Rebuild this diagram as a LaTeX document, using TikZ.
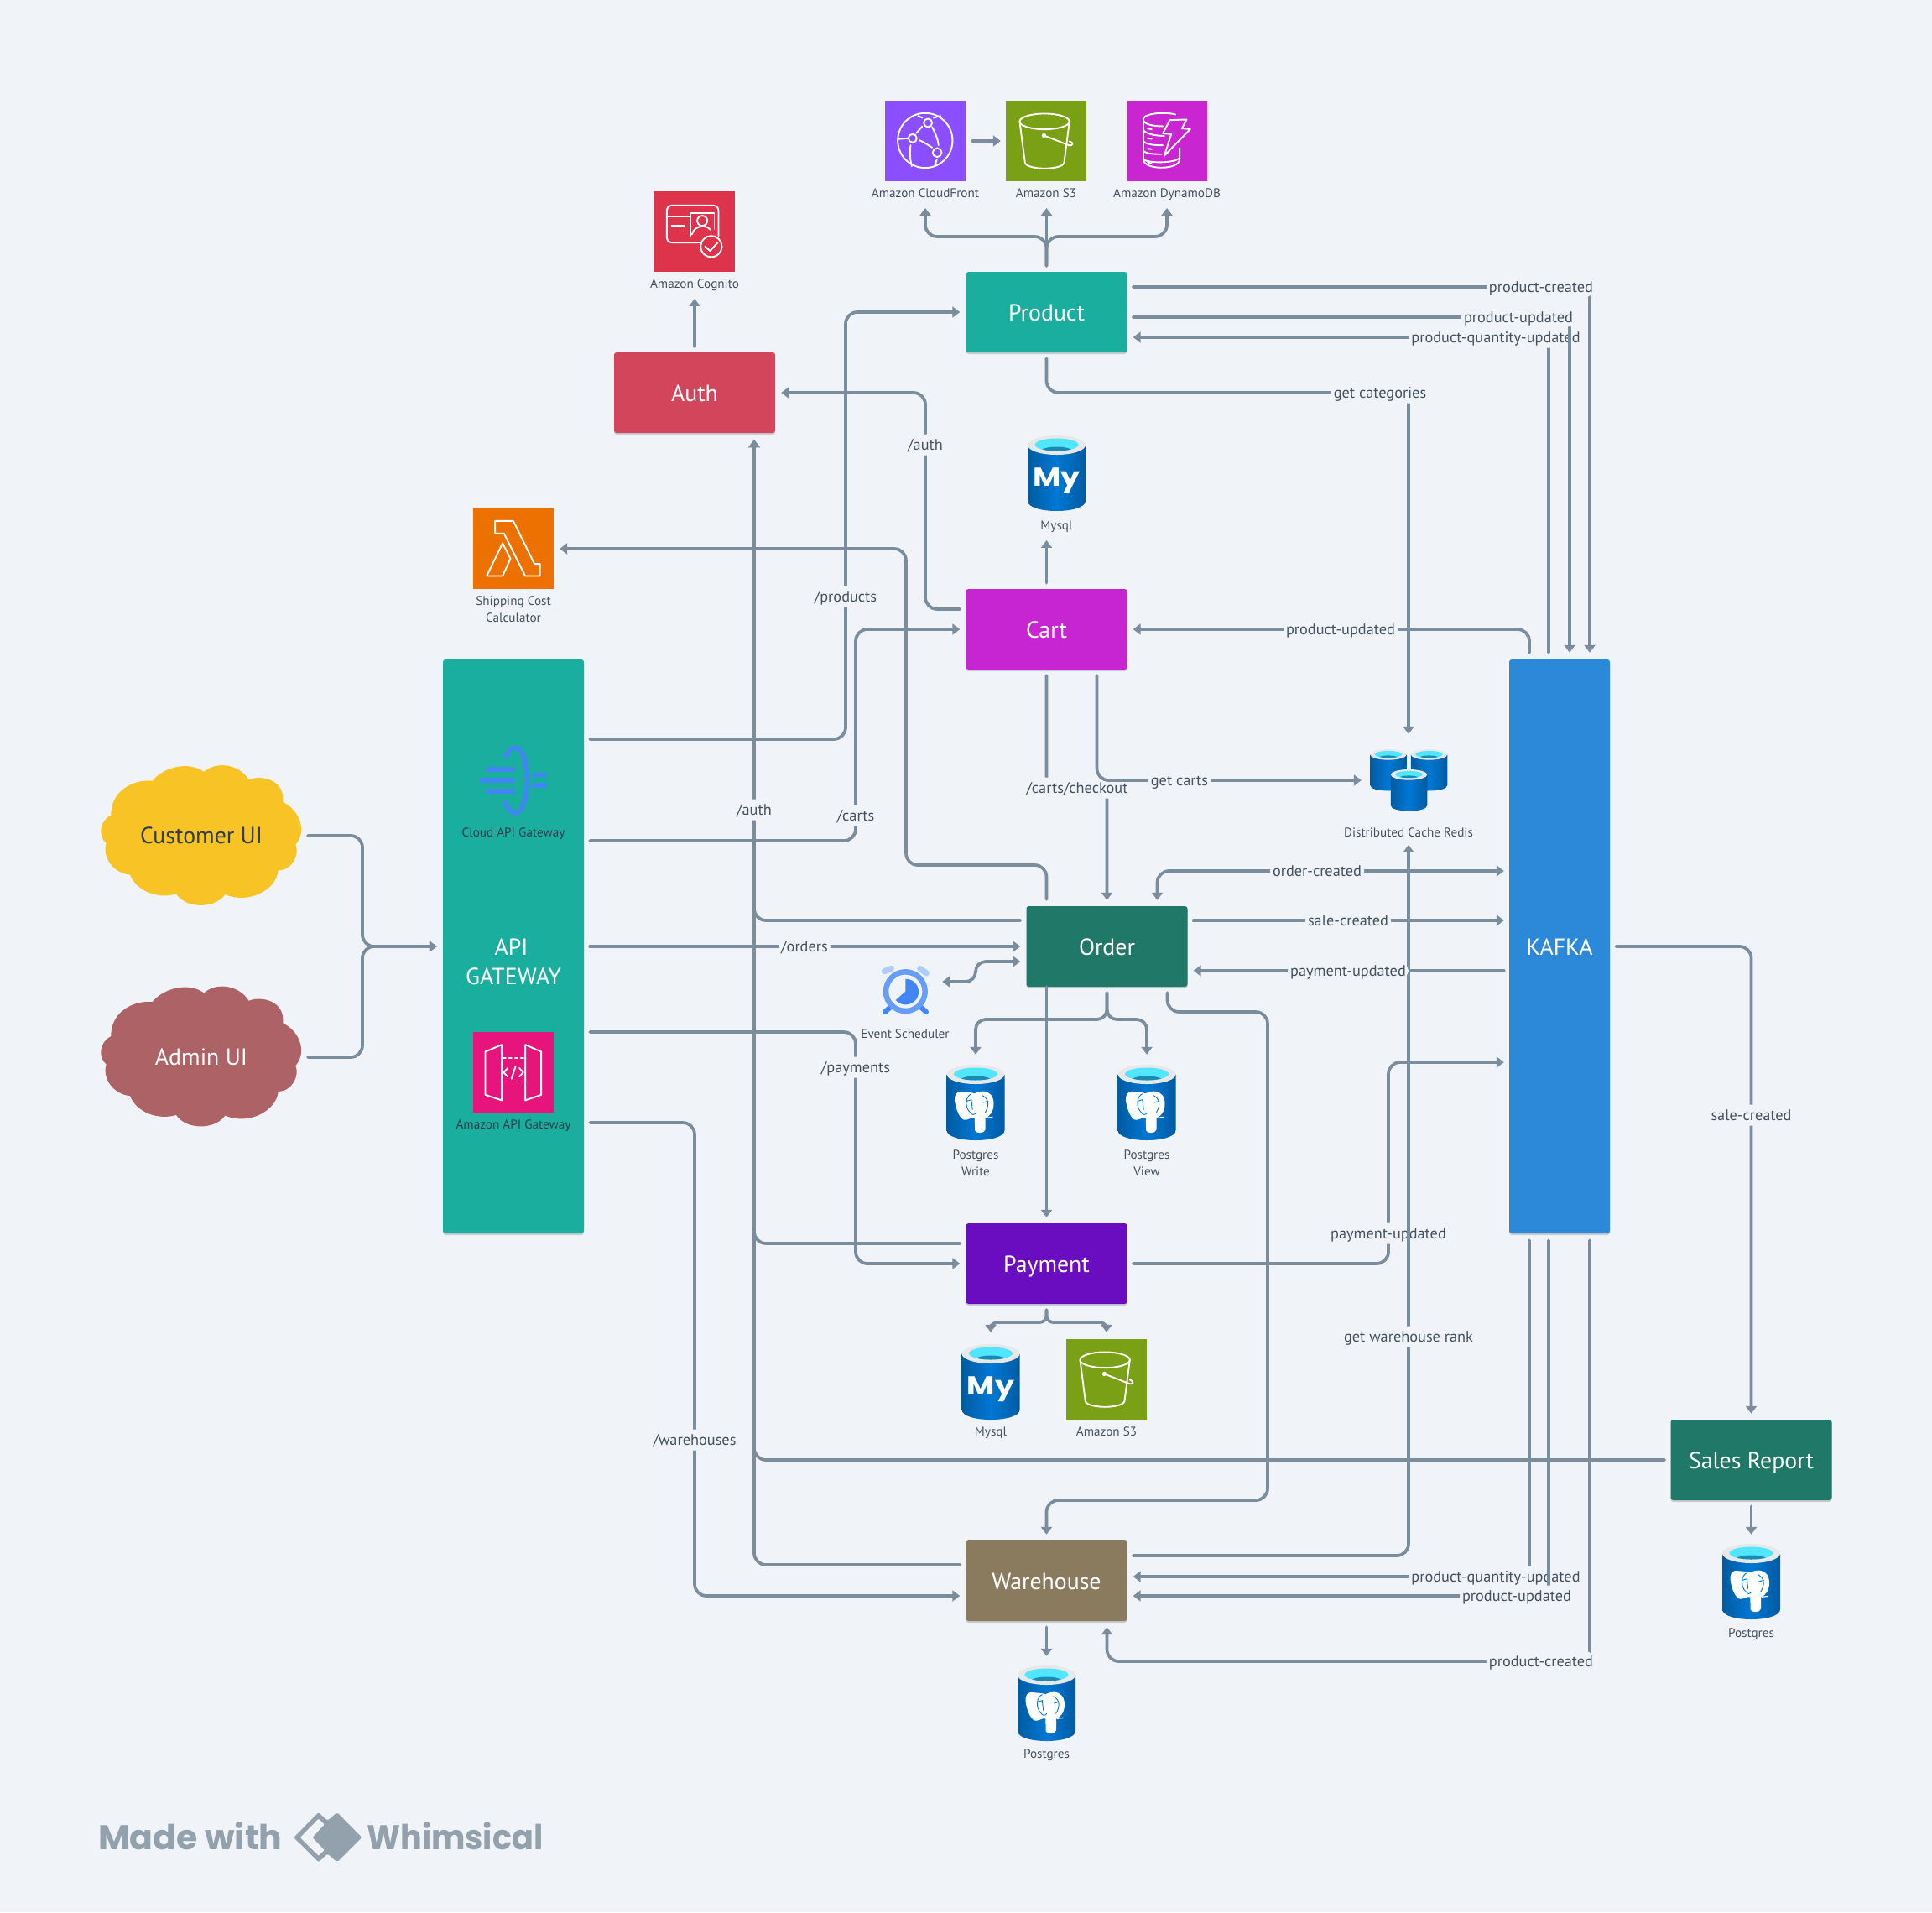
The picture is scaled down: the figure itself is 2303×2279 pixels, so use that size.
\documentclass[tikz,border=0pt]{standalone}
\usepackage{fontspec}
\setmainfont{PT Sans}
\newfontfamily\whimfont{Poppins}
\newfontfamily\myfont{Poppins}
\usetikzlibrary{arrows.meta,calc,shadows}
\definecolor{bgc}{HTML}{F0F4F8}
\definecolor{linec}{HTML}{7B8D9D}
\definecolor{labc}{HTML}{44525F}
\definecolor{darkc}{HTML}{2E3D49}
\definecolor{tealc}{HTML}{1AAE9F}
\definecolor{greenc}{HTML}{207868}
\definecolor{authc}{HTML}{D3455B}
\definecolor{cartc}{HTML}{C725D1}
\definecolor{payc}{HTML}{6A0DC0}
\definecolor{whc}{HTML}{8A7B5E}
\definecolor{kafc}{HTML}{2C88D9}
\definecolor{cfc}{HTML}{8C4FFF}
\definecolor{s3c}{HTML}{7AA116}
\definecolor{ddbc}{HTML}{C925D1}
\definecolor{cogc}{HTML}{DD344C}
\definecolor{lamc}{HTML}{ED7100}
\definecolor{apic}{HTML}{E7157B}
\definecolor{cylD}{HTML}{005BA1}
\definecolor{cylL}{HTML}{0078D4}
\definecolor{cylrim}{HTML}{E8E8E8}
\definecolor{cylcy}{HTML}{50E6FF}
\definecolor{cyldk}{HTML}{198AB3}
\definecolor{gcpc}{HTML}{4285F4}
\definecolor{gcpm}{HTML}{669DF6}
\definecolor{gcpl}{HTML}{AECBFA}
\definecolor{logoc}{HTML}{93A1AC}
\definecolor{yelc}{HTML}{F7C325}
\definecolor{rosec}{HTML}{AD6266}
\tikzset{
  conn/.style={draw=linec,line width=3.7pt,line cap=round,rounded corners=14pt,-{Triangle[width=13pt,length=9pt]}},
  conn2/.style={conn,{Triangle[width=13pt,length=9pt]}-{Triangle[width=13pt,length=9pt]}},
  lab/.style={fill=bgc,text=labc,font=\fontsize{18.3}{22}\selectfont,inner ysep=0pt,inner xsep=3pt,text height=18.5pt,text depth=6.5pt},
  boxn/.style={minimum width=192pt,minimum height=96pt,rounded corners=3pt,text=white,font=\fontsize{27.8}{35}\selectfont,inner sep=0pt,text height=24.5pt,text depth=4.3pt,drop shadow={shadow xshift=0pt,shadow yshift=-2pt,opacity=.16,fill=black}},
  iconbox/.style={minimum width=96pt,minimum height=96pt,inner sep=0pt},
  iconlab/.style={iconlabm,text height=13pt,text depth=2.5pt},
  iconlabm/.style={text=labc,font=\fontsize{15.2}{20}\selectfont,align=center,inner sep=0pt},
  spot/.style={inner sep=0pt,minimum width=#1},
  icn/.style={draw=white,line width=1.9pt,line join=round,line cap=round},
  zoomu/.style={x=.3333pt,y=-.3333pt},
}
\newcommand\cylbase[4]{%
  \begin{scope}[shift={(#1,#2)},xscale=#3,yscale=#4]
    \shade[left color=cylD,right color=cylD,middle color=cylL] (-34.5,11.5) -- (-34.5,78) .. controls (-34.5,94) and (34.5,94) .. (34.5,78) -- (34.5,11.5) -- cycle;
    \fill[cylrim] (0,11.5) ellipse [x radius=34.5,y radius=11.5];
    \begin{scope}
      \clip (0,11) ellipse [x radius=26,y radius=7.5];
      \fill[cylcy] (-30,0) rectangle (30,22);
      \fill[cyldk] (0,19) ellipse [x radius=19,y radius=5.5];
    \end{scope}
  \end{scope}}
\newcommand\pgicon[2]{%
  \cylbase{#1}{#2}{1}{1}
  \begin{scope}[shift={(#1,#2)},xshift=-34.5pt,zoomu]
    \fill[white] (60,97) .. controls (32,90) and (26,112) .. (29,130) .. controls (32,155) and (45,192) .. (62,197) .. controls (78,199) and (85,187) .. (100,190) -- (101,235) .. controls (106,247) and (134,247) .. (138,232) -- (138,190) .. controls (155,185) and (168,165) .. (168,140) .. controls (168,113) and (155,96) .. (130,95) .. controls (115,95) and (105,100) .. (100,103) .. controls (88,98) and (72,98) .. (60,97) -- cycle;
    \draw[cylL,line width=.9pt,line cap=round] (88,104) .. controls (68,112) and (62,150) .. (85,172) .. controls (90,180) and (100,180) .. (104,172);
    \draw[cylL,line width=.9pt,line cap=round] (72,130) -- (88,125) -- (92,160);
    \draw[cylL,line width=.9pt,line cap=round] (128,110) .. controls (155,125) and (150,150) .. (137,172);
    \draw[cylL,line width=.9pt,line cap=round] (130,135) -- (148,130);
    \draw[white,line width=1.2pt] (140,190) -- (165,187);
  \end{scope}}
\newcommand\myicon[2]{%
  \cylbase{#1}{#2}{1}{1}
  \node[anchor=base,text=white,font=\myfont\bfseries\fontsize{31}{31}\selectfont,inner sep=0pt] at ($(#1,#2)+(0,60)$) {\scalebox{1.17}[1]{My}};}
\newcommand\cloudshape[3]{%
  \fill[#3] [shift={(#1,#2)},zoomu]
   (245,122) .. controls (285,72) and (375,50) .. (430,90)
   .. controls (465,55) and (550,55) .. (590,118)
   .. controls (630,100) and (720,115) .. (712,198)
   .. controls (770,225) and (800,300) .. (757,350)
   .. controls (772,385) and (745,442) .. (695,442)
   .. controls (690,510) and (590,565) .. (505,528)
   .. controls (470,580) and (365,580) .. (330,526)
   .. controls (270,545) and (190,520) .. (165,458)
   .. controls (105,452) and (65,395) .. (80,345)
   .. controls (50,320) and (55,265) .. (97,245)
   .. controls (95,160) and (175,115) .. (245,122) -- cycle;}
\newcommand\sthreeicon[1]{%
  \begin{scope}[shift={(#1.north west)},zoomu]
    \draw[icn] (139,75) ellipse [x radius=89,y radius=28];
    \draw[icn] (50,75) -- (69,222) .. controls (75,250) and (203,250) .. (209,222) -- (228,75);
    \fill[white] (137,125) circle [radius=8];
    \draw[icn] (137,125) -- (226,160) .. controls (240,165) and (245,150) .. (228,146);
  \end{scope}}
\begin{document}
\begin{tikzpicture}[x=1pt,y=-1pt]
\useasboundingbox (0,0) rectangle (2303,2279);
\fill[bgc] (0,0) rectangle (2303,2279);

% clouds
\cloudshape{100}{890}{yelc}
\cloudshape{100}{1153.5}{rosec}
\node[text=darkc,font=\fontsize{27.8}{30}\selectfont,inner sep=0pt] (CU) at (240,996) {Customer UI};
\node[text=white,font=\fontsize{27.8}{30}\selectfont,inner sep=0pt] (AU) at (240,1260) {Admin UI};

% main boxes
\node[boxn,minimum width=168pt,minimum height=684pt,fill=tealc] (AG) at (612,1128) {};
\node[boxn,fill=tealc] (P) at (1247.5,372) {Product};
\node[boxn,fill=authc] (A) at (828,468) {Auth};
\node[boxn,fill=cartc] (C) at (1247.5,750) {Cart};
\node[boxn,fill=greenc] (O) at (1319.5,1128) {Order};
\node[boxn,fill=payc] (Pm) at (1247.5,1506) {Payment};
\node[boxn,fill=whc] (W) at (1247.5,1884) {Warehouse};
\node[boxn,fill=greenc] (SR) at (2087.5,1740) {Sales Report};
\node[boxn,minimum width=120pt,minimum height=684pt,fill=kafc] (K) at (1859,1128) {KAFKA};
\node[text=white,font=\fontsize{27.8}{35}\selectfont,align=center,inner sep=0pt] (AGt) at (612,1146) {API\hspace*{5pt}\\GATEWAY};

% icon boxes
\node[iconbox,fill=cfc] (CF) at (1103,168) {};
\node[iconbox,fill=s3c] (S3a) at (1247,168) {};
\node[iconbox,fill=ddbc] (DD) at (1391,168) {};
\node[iconbox,fill=cogc] (CG) at (828,276) {};
\node[iconbox,fill=lamc] (L) at (612,654) {};
\node[iconbox,fill=apic] (AP) at (612,1278) {};
\node[iconbox,fill=s3c] (S3b) at (1319,1644) {};
\node[iconlab] (CFl) at (1103,230) {Amazon CloudFront};
\node[iconlab] (S3al) at (1247,230) {Amazon S3};
\node[iconlab] (DDl) at (1391,230) {Amazon DynamoDB};
\node[iconlab] (CGl) at (828,338) {Amazon Cognito};
\node[iconlabm] (Ll) at (612,726) {Shipping Cost\\Calculator};
\node[iconlab,text=darkc] (GAl) at (612,992) {Cloud API Gateway};
\node[iconlab,text=darkc] (APl) at (612,1340) {Amazon API Gateway};
\node[iconlab] (ESl) at (1079,1232) {Event Scheduler};
\node[iconlab] (Rl) at (1679,992) {Distributed Cache Redis};
\node[iconlab] (MY1l) at (1259.5,626) {Mysql};
\node[iconlabm] (PGWl) at (1163,1386) {Postgres\\Write};
\node[iconlabm] (PGVl) at (1367,1386) {Postgres\\View};
\node[iconlab] (MY2l) at (1181,1706) {Mysql};
\node[iconlab] (S3bl) at (1319,1706) {Amazon S3};
\node[iconlab] (PG3l) at (2087.5,1946) {Postgres};
\node[iconlab] (PG4l) at (1247.5,2090) {Postgres};

% icon anchors
\node[spot=69pt,minimum height=90pt] (MY1) at (1259.5,564) {};
\node[spot=69pt,minimum height=90pt] (PGW) at (1163,1314) {};
\node[spot=69pt,minimum height=90pt] (PGV) at (1367,1314) {};
\node[spot=69pt,minimum height=90pt] (MY2) at (1181,1647) {};
\node[spot=69pt,minimum height=90pt] (PG3) at (2087.5,1885) {};
\node[spot=69pt,minimum height=90pt] (PG4) at (1247.5,2030) {};
\node[spot=92pt,minimum height=74pt] (R) at (1679,930) {};
\node[spot=56pt,minimum height=56pt] (ES) at (1079,1182) {};

% AWS icons
\begin{scope}[shift={(CF.north west)},zoomu]
  \draw[icn] (144,143) circle [radius=98];
  \draw[icn] (154,80) circle [radius=15];
  \draw[icn] (99,135) circle [radius=15];
  \draw[icn] (187,186) circle [radius=16];
  \draw[icn] (134,92) -- (112,117);
  \draw[icn] (124,142) .. controls (142,150) and (155,160) .. (169,168);
  \draw[icn] (169,95) .. controls (182,120) and (190,140) .. (192,160);
  \draw[icn] (92,160) .. controls (88,185) and (90,210) .. (96,235);
  \draw[icn] (46,138) -- (82,135);
  \draw[icn] (119,55) -- (134,62);
  \draw[icn] (174,62) -- (199,55);
  \draw[icn] (179,232) -- (186,210);
\end{scope}
\sthreeicon{S3a}
\sthreeicon{S3b}
\begin{scope}[shift={(DD.north west)},zoomu]
  \draw[icn] (125,45) .. controls (160,45) and (175,50) .. (175,50);
  \draw[icn] (130,92) .. controls (95,92) and (60,85) .. (60,68) .. controls (60,52) and (95,46) .. (125,45);
  \draw[icn] (60,68) -- (60,210);
  \draw[icn] (60,105) .. controls (70,120) and (100,125) .. (135,127);
  \draw[icn] (60,145) .. controls (70,158) and (100,160) .. (130,160);
  \draw[icn] (60,180) .. controls (70,190) and (95,192) .. (125,192);
  \draw[icn] (60,210) .. controls (60,250) and (190,250) .. (190,210) -- (190,170);
  \draw[icn] (60,210) .. controls (75,225) and (175,225) .. (190,205);
  \draw[icn] (76,100) -- (90,103);
  \draw[icn] (76,135) -- (90,137);
  \draw[icn] (76,172) -- (90,174);
  \draw[icn] (76,222) -- (90,226);
  \draw[icn,fill=ddbc] (155,70) -- (215,68) -- (198,100) -- (228,102) -- (135,198) -- (160,120) -- (130,118) -- cycle;
\end{scope}
\begin{scope}[shift={(CG.north west)},zoomu]
  \draw[icn,rounded corners=3pt] (200,184) -- (55,184) -- (45,174) -- (45,61) -- (55,51) -- (220,51) -- (230,61) -- (230,160);
  \draw[icn] (45,90) -- (130,90);
  \draw[icn] (130,160) -- (130,78) -- (215,78) -- (215,135);
  \draw[icn] (172,106) circle [radius=18];
  \draw[icn] (135,155) .. controls (140,135) and (155,128) .. (170,126) .. controls (185,126) and (195,130) .. (200,138);
  \draw[icn] (62,123) -- (109,123);
  \draw[icn] (62,146) -- (87,146);
  \draw[icn] (97,146) -- (112,146);
  \draw[icn,fill=cogc] (204,198) circle [radius=38];
  \draw[icn] (182,198) -- (200,214) -- (227,184);
\end{scope}
\begin{scope}[shift={(L.north west)},zoomu]
  \draw[icn] (79,45) -- (144,45) -- (220,199) -- (240,199) -- (240,242) -- (187,242) -- (111,90) -- (79,90) -- cycle;
  \draw[icn] (106,125) -- (134,180) -- (106,242) -- (49,242) -- cycle;
\end{scope}
\begin{scope}[shift={(AP.north west)},zoomu]
  \draw[icn] (44,71) -- (103,46) -- (103,245) -- (44,225) -- cycle;
  \draw[icn] (187,46) -- (244,71) -- (244,225) -- (187,245) -- cycle;
  \draw[icn,dash pattern=on 3pt off 4pt] (108,94) -- (184,94);
  \draw[icn,dash pattern=on 3pt off 4pt] (108,197) -- (184,197);
  \draw[icn] (124,130) -- (110,145) -- (124,160);
  \draw[icn] (152,124) -- (138,168);
  \draw[icn] (166,130) -- (180,145) -- (166,160);
\end{scope}
% cloud api gateway
\begin{scope}[line width=5.3pt,draw=gcpc,line cap=butt]
  \draw (580,917) -- (614,917);
  \draw (572,930) -- (614,930);
  \draw (580,943) -- (614,943);
  \draw (634,923.5) -- (652,923.5);
  \draw (634,936) -- (652,936);
  \draw (602,904) .. controls (605,896) and (609,891) .. (614,891) .. controls (623,891) and (628,908) .. (628,930) .. controls (628,952) and (623,969) .. (614,969) .. controls (609,969) and (605,964) .. (602,955);
\end{scope}
% event scheduler
\begin{scope}[shift={(1000,1120)},zoomu]
  \draw[gcpl,line width=7pt,line cap=round] (163,113) -- (187,103);
  \draw[gcpl,line width=7pt,line cap=round] (290,103) -- (313,120);
  \draw[gcpc,line width=6pt,line cap=round] (165,258) -- (182,243);
  \draw[gcpc,line width=6pt,line cap=round] (312,258) -- (295,243);
  \draw[gcpm,line width=6.5pt] (238,185) circle [radius=70];
  \fill[gcpc] (238,185) -- (238,140) .. controls (265,140) and (285,160) .. (285,187) .. controls (285,215) and (262,232) .. (238,232) .. controls (225,232) and (212,226) .. (203,216) -- cycle;
\end{scope}
% cylinders
\myicon{1259.5}{519}
\pgicon{1163}{1269}
\pgicon{1367}{1269}
\myicon{1181}{1602}
\pgicon{2087.5}{1840}
\pgicon{1247.5}{1985}
\cylbase{1655}{893}{.63}{.55}
\cylbase{1703.5}{893}{.63}{.55}
\cylbase{1679.5}{917}{.63}{.55}

% connectors : icons row
\draw[conn] ($(CF.east)+(8,0)$) -- ($(S3a.west)+(-6,0)$);
\draw[conn] ($(P.north)+(0,-7)$) -- (1247.5,282) -- (1103,282) -- ($(CFl.south)+(0,10)$);
\draw[conn] ($(P.north)+(0,-7)$) -- (1247.5,282) -- (1391,282) -- ($(DDl.south)+(0,10)$);
\draw[conn] ($(P.north)+(0,-7)$) -- ($(S3al.south)+(0.5,10)$);
\draw[conn] ($(A.north)+(0,-7)$) -- ($(CGl.south)+(0,10)$);
% clouds to gateway
\draw[conn] ($(CU)+(127,0)$) -- (432,996) -- (432,1128) -- ($(AG.west)+(-7,0)$);
\draw[conn] ($(AU)+(127,0)$) -- (432,1260) -- (432,1128) -- ($(AG.west)+(-7,0)$);
% gateway routes
\draw[conn] ($(AG.east)+(7,-247)$) -- (1008,881) -- (1008,711) node[lab] (lprod) {/products} -- (1008,372) -- ($(P.west)+(-7,0)$);
\draw[conn] ($(AG.east)+(7,-126)$) -- (1020,1002) -- (1020,972) node[lab] (lcart) {/carts} -- (1020,750) -- ($(C.west)+(-7,0)$);
\draw[conn] ($(AG.east)+(7,0)$) -- (959,1128) node[lab] (lord) {/orders} -- ($(O.west)+(-7,0)$);
\draw[conn] ($(AG.east)+(7,102)$) -- (1020,1230) -- (1020,1272) node[lab] (lpay) {/payments} -- (1020,1506) -- ($(Pm.west)+(-7,0)$);
\draw[conn] ($(AG.east)+(7,210)$) -- (828,1338) -- (828,1716) node[lab] (lware) {/warehouses} -- (828,1902) -- ($(W.west)+(-7,18)$);
% auth bus
\draw[conn] ($(SR.west)+(-7,0)$) -- (899,1740) -- ($(A.south)+(71,8)$);
\draw[conn] ($(Pm.west)+(-7,-24)$) -- (899,1482) -- ($(A.south)+(71,8)$);
\draw[conn] ($(O.west)+(-7,-31)$) -- (899,1097) -- ($(A.south)+(71,8)$);
\draw[conn] ($(W.west)+(-7,-19)$) -- (899,1865) -- (899,965) node[lab] (lauth) {/auth} -- ($(A.south)+(71,8)$);
% cart, order
\draw[conn] ($(C.west)+(-7,-24)$) -- (1103,726) -- (1103,530) node[lab] (lauth2) {/auth} -- (1103,468) -- ($(A.east)+(7,0)$);
\draw[conn] ($(C.north)+(0,-7)$) -- ($(MY1l.south)+(-12,10)$);
\draw[conn] ($(O.north)+(-72,-8)$) -- (1247.5,1031) -- (1080,1031) -- (1080,654) -- ($(L.east)+(7,0)$);
\draw[conn] ($(C.south)+(0,7)$) -- (1247.5,939) -- (1284,939) node[lab] (lchk) {/carts/checkout} -- (1319.5,939) -- ($(O.north)+(0,-7)$);
\draw[conn] ($(C.south)+(60,7)$) -- (1307.5,930) -- (1406,930) node[lab] (lgc) {get carts} -- ($(R.west)+(-10,0)$);
\draw[conn] ($(P.south)+(0,7)$) -- (1247.5,468) -- (1645,468) node[lab] (lcat) {get categories} -- (1679,468) -- ($(R.north)+(0,-18)$);
\draw[conn2,rounded corners=12pt] ($(ES.east)+(16,-12)$) -- (1163,1170) -- (1163,1146) -- ($(O.west)+(-7,18)$);
\draw[conn,rounded corners=12pt] ($(O.south)+(0,7)$) -- (1319.5,1215) -- (1163,1215) -- ($(PGW.north)+(0,-12)$);
\draw[conn,rounded corners=12pt] ($(O.south)+(0,7)$) -- (1319.5,1215) -- (1367,1215) -- ($(PGV.north)+(0,-12)$);
\draw[conn] ($(O.south)+(-72,0)$) -- ($(Pm.north)+(0,-7)$);
\draw[conn] ($(O.south)+(72,7)$) -- (1391.5,1206) -- (1511,1206) -- (1511,1788) -- (1247.5,1788) -- ($(W.north)+(0,-7)$);
% payment
\draw[conn,rounded corners=8pt] ($(Pm.south)+(0,7)$) -- (1247.5,1576) -- (1181,1576) -- ($(MY2.north)+(0,-14)$);
\draw[conn,rounded corners=8pt] ($(Pm.south)+(0,7)$) -- (1247.5,1576) -- (1319,1576) -- ($(S3b.north)+(0,-8)$);
\draw[conn] ($(Pm.east)+(7,0)$) -- (1655,1506) -- (1655,1470) node[lab] (lpu2) {payment-updated} -- (1655,1266) -- ($(K.west)+(-6,138)$);
% warehouse
\draw[conn] ($(W.east)+(7,-30)$) -- (1679,1854) -- (1679,1593) node[lab] (lrank) {get warehouse rank} -- ($(Rl.south)+(0,7)$);
\draw[conn] ($(W.south)+(0,7)$) -- ($(PG4.north)+(0,-11)$);
% kafka - product
\draw[conn] ($(K.north)+(-13,-8)$) -- (1846,402) -- (1783,402) node[lab] (lpq) {product-quantity-updated} -- ($(P.east)+(7,30)$);
\draw[conn] ($(P.east)+(7,6)$) -- (1810,378) node[lab] (lpu) {product-updated} -- (1871,378) -- ($(K.north)+(12,-8)$);
\draw[conn] ($(P.east)+(7,-30)$) -- (1837,342) node[lab] (lpc) {product-created} -- (1895,342) -- ($(K.north)+(36,-8)$);
\draw[conn] ($(K.north)+(-36,-8)$) -- (1823,750) -- (1598,750) node[lab] (lcu) {product-updated} -- ($(C.east)+(7,0)$);
% kafka - order
\draw[conn2] ($(O.north)+(60,-7)$) -- (1379.5,1038) -- (1570,1038) node[lab] (loc) {order-created} -- ($(K.west)+(-6,-90)$);
\draw[conn] ($(O.east)+(7,-31)$) -- (1607,1097) node[lab] (lsc) {sale-created} -- ($(K.west)+(-6,-31)$);
\draw[conn] ($(K.west)+(-6,29)$) -- (1607,1157) node[lab] (lpuo) {payment-updated} -- ($(O.east)+(7,29)$);
% kafka - warehouse
\draw[conn] ($(K.south)+(-36,8)$) -- (1823,1879) -- (1783,1879) node[lab] (lwq) {product-quantity-updated} -- ($(W.east)+(7,-5)$);
\draw[conn] ($(K.south)+(-13,8)$) -- (1846,1902) -- (1808,1902) node[lab] (lwu) {product-updated} -- ($(W.east)+(7,18)$);
\draw[conn] ($(K.south)+(36,8)$) -- (1895,1980) -- (1837,1980) node[lab] (lwc) {product-created} -- (1319.5,1980) -- ($(W.south)+(72,7)$);
% sales
\draw[conn] ($(K.east)+(7,0)$) -- (2087.5,1128) -- (2087.5,1329) node[lab] (lsr) {sale-created} -- ($(SR.north)+(0,-7)$);
\draw[conn] ($(SR.south)+(0,7)$) -- ($(PG3.north)+(0,-11)$);

% logo
\node[anchor=base west,text=logoc,font=\whimfont\bfseries\fontsize{41}{41}\selectfont,inner sep=0pt] (mw) at (117,2204) {Made with};
\node[anchor=base west,text=logoc,font=\whimfont\bfseries\fontsize{41}{41}\selectfont,inner sep=0pt] (wh) at (437,2204) {\scalebox{.93}[1]{Whimsical}};
\begin{scope}[shift={(90,2130)},x=.3827pt,y=-.3333pt]
  \fill[logoc,rounded corners=2pt] (757,90) -- (785,120) -- (815,90) -- (892,180) -- (815,268) -- (785,238) -- (757,268) -- (680,180) -- cycle;
  \fill[bgc,rounded corners=1pt] (757,113) -- (775,133) -- (738,180) -- (775,225) -- (757,245) -- (700,180) -- cycle;
\end{scope}
\end{tikzpicture}
\end{document}
